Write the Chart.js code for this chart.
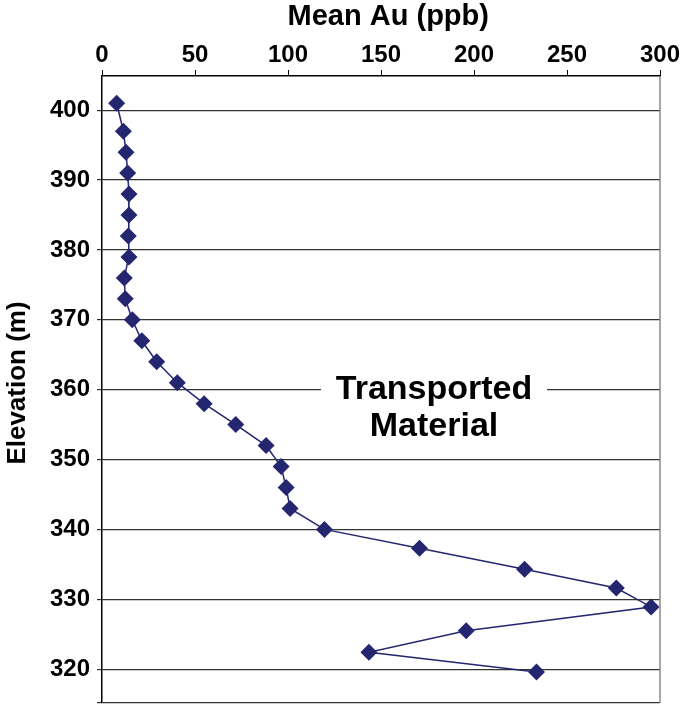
<!DOCTYPE html>
<html>
<head>
<meta charset="utf-8">
<script src="https://cdn.jsdelivr.net/npm/chart.js@4.4.1/dist/chart.umd.min.js"></script>
<style>
  html, body { margin: 0; padding: 0; background: #fff; }
  #wrap { width: 686px; height: 704px; }
</style>
</head>
<body>
<div id="wrap"><canvas id="auChart" width="686" height="704"></canvas></div>
<script>
const elevations = [401, 397, 394, 391, 388, 385, 382, 379, 376, 373, 370, 367, 364, 361,
  358, 355, 352, 349, 346, 343, 340, 337.3, 334.3, 331.6, 328.9, 325.5, 322.4, 319.6];
const meanAu = [7.9, 11.5, 12.9, 13.8, 14.5, 14.5, 14.1, 14.5, 12.0, 12.5, 16.3, 21.4, 29.4, 40.5,
  54.9, 71.9, 88.2, 96.3, 99.0, 101.1, 119.6, 170.7, 227.2, 276.5, 295.2, 195.8, 143.5, 233.6];
const elevationTicks = [320, 330, 340, 350, 360, 370, 380, 390, 400];
const noteLines = ['Transported', 'Material'];

const navy = 'rgb(36, 38, 112)';
const fontFamily = "'Liberation Sans', Arial, sans-serif";

const points = meanAu.map((v, i) => ({ x: v, y: elevations[i] }));

// white box with the note, plus the grey right frame line
const extrasPlugin = {
  id: 'extras',
  afterDraw(chart) {
    const { ctx, chartArea, scales } = chart;
    ctx.save();
    ctx.strokeStyle = '#888';
    ctx.lineWidth = 1.5;
    ctx.beginPath();
    ctx.moveTo(chartArea.right, chartArea.top);
    ctx.lineTo(chartArea.right, chartArea.bottom);
    ctx.stroke();

    const cx = scales.x.getPixelForValue(178.5);
    const cy = scales.y.getPixelForValue(357.4);
    ctx.fillStyle = '#fff';
    ctx.fillRect(cx - 113, cy - 40, 226, 80);
    ctx.fillStyle = '#000';
    ctx.font = 'bold 34px ' + fontFamily;
    ctx.textAlign = 'center';
    ctx.textBaseline = 'middle';
    ctx.fillText(noteLines[0], cx, cy - 18);
    ctx.fillText(noteLines[1], cx, cy + 19);
    ctx.restore();
  }
};

const config = {
  type: 'scatter',
  data: {
    datasets: [{
      data: points,
      showLine: true,
      borderColor: navy,
      borderWidth: 1.5,
      backgroundColor: navy,
      pointStyle: 'rectRot',
      pointRadius: 8.5,
      pointBorderWidth: 0,
      pointBackgroundColor: navy,
      tension: 0
    }]
  },
  options: {
    responsive: false,
    animation: false,
    layout: { autoPadding: false, padding: { left: 0, right: 26, top: 0, bottom: 1 } },
    plugins: {
      legend: { display: false },
      tooltip: { enabled: false }
    },
    scales: {
      x: {
        type: 'linear',
        position: 'top',
        min: 0,
        max: 300,
        afterFit(scale) { scale.height = 76; },
        ticks: {
          stepSize: 50,
          color: '#000',
          padding: 0,
          font: { family: fontFamily, size: 24, weight: 'bold' }
        },
        grid: { drawOnChartArea: false, tickLength: 6, color: '#000' },
        border: { color: '#000', width: 1.5 },
        title: {
          display: true,
          text: '\u2002Mean Au (ppb)',
          color: '#000',
          padding: { top: 0, bottom: 0 },
          font: { family: fontFamily, size: 29, weight: 'bold' }
        }
      },
      y: {
        type: 'linear',
        min: 315.15,
        max: 404.9,
        afterFit(scale) {
          scale.width = 102;
          scale.paddingTop = 0;
          scale.paddingBottom = 0;
        },
        afterBuildTicks(scale) {
          // unlabeled tick at the bottom edge closes the frame
          scale.ticks = [scale.min].concat(elevationTicks).map(v => ({ value: v }));
        },
        ticks: {
          color: '#000',
          padding: 7,
          callback: v => (elevationTicks.includes(v) ? v : ''),
          font: { family: fontFamily, size: 24, weight: 'bold' }
        },
        grid: { color: '#333', lineWidth: 1.2, tickLength: 5 },
        border: { color: '#000', width: 1.5 },
        title: {
          display: true,
          text: '\u2002Elevation (m)',
          color: '#000',
          padding: { top: 2, bottom: 0 },
          font: { family: fontFamily, size: 26, weight: 'bold' }
        }
      }
    }
  },
  plugins: [extrasPlugin]
};

document.addEventListener('DOMContentLoaded', () => {
  const auChart = new Chart(document.getElementById('auChart'), config);
});
</script>
</body>
</html>
